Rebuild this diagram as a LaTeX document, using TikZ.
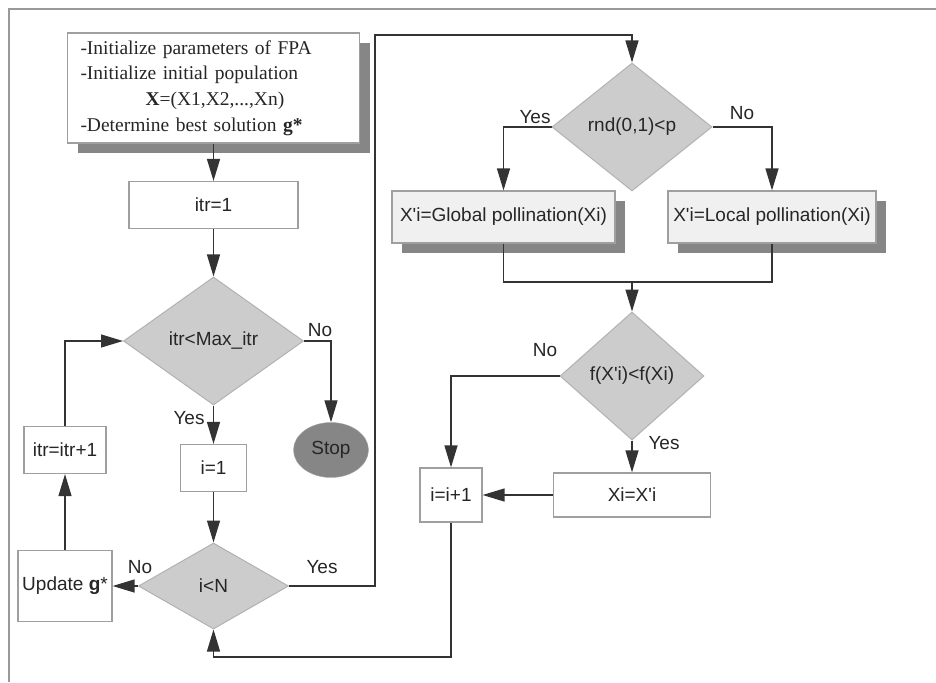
\documentclass[tikz,border=0pt]{standalone}
\usepackage{fontspec}
\setmainfont{Liberation Serif}
\setsansfont{Liberation Sans}
\usetikzlibrary{shapes.geometric,arrows.meta,shadows}
\newcommand\pr{\textquotesingle}

\begin{document}
\begin{tikzpicture}[x=1pt,y=-1pt,
	every node/.style={font=\sffamily\fontsize{19}{23}\selectfont,text=black!85},
	box/.style={draw=gray!75,line width=1.2pt,fill=white,inner sep=0pt},
	shbox/.style={box,fill=gray!12,drop shadow={shadow xshift=10pt,shadow yshift=-10pt,fill=gray!95,opacity=1}},
	dia/.style={diamond,draw=gray!60,line width=1pt,fill=gray!40,inner sep=0pt},
	flow/.style={draw=black!80,line width=1.3pt,-{Triangle[length=22pt,width=13pt]}},
	link/.style={draw=black!80,line width=1.3pt},
	lbl/.style={inner sep=0pt}]
	\useasboundingbox (0,0) rectangle (936,682);
	\draw[gray!80,line width=1.2pt] (9,682) -- (9,9) -- (936,9); % frame

	% left column
	\node[box,drop shadow={shadow xshift=10pt,shadow yshift=-10pt,fill=gray!95,opacity=1},
		font=\rmfamily\fontsize{19.5}{25.7}\selectfont,align=left,text width=266pt,
		minimum width=292pt,minimum height=110pt,inner xsep=13pt] (init) at (213.5,88)
		{-Initialize parameters of FPA\\
		 -Initialize initial population\\
		 \hspace*{65pt}\textbf{X}=(X1,X2,...,Xn)\\
		 -Determine best solution \textbf{g*}};
	\node[box,minimum width=169pt,minimum height=47pt] (itr1) at (213.5,205) {itr=1};
	\node[dia,minimum width=180pt,minimum height=128pt] (loopdia) at (213.5,341) {itr<Max\_itr};
	\node[ellipse,draw=gray!70,fill=gray!95,minimum width=75pt,minimum height=55pt,inner sep=0pt] (stop) at (331,450) {Stop};
	\node[box,minimum width=66pt,minimum height=47pt] (ione) at (213.5,468) {i=1};
	\node[dia,minimum width=150pt,minimum height=86pt] (idia) at (213.5,586) {i<N};
	\node[box,minimum width=82pt,minimum height=47pt] (incr) at (65,450) {itr=itr+1};
	\node[box,minimum width=94pt,minimum height=71pt] (upd) at (65,586) {Update \textbf{g}*};

	% right column
	\node[dia,minimum width=160pt,minimum height=128pt] (rnd) at (632,127) {rnd(0,1)<p};
	\node[shbox,minimum width=223pt,minimum height=52pt] (glob) at (503.5,217) {X\pr i=Global pollination(Xi)};
	\node[shbox,minimum width=208pt,minimum height=52pt] (loc) at (772,217) {X\pr i=Local pollination(Xi)};
	\node[dia,minimum width=144pt,minimum height=128pt] (fdia) at (632,376) {f(X\pr i)<f(Xi)};
	\node[box,minimum width=157pt,minimum height=44pt] (xi) at (632,495) {Xi=X\pr i};
	\node[box,minimum width=62pt,minimum height=54pt] (inc) at (451,495) {i=i+1};

	\coordinate (up) at (375,35);
	\coordinate (mrg) at (632,282);
	\coordinate (back) at (451,657);

	% connectors
	\draw[flow] (init) -- (itr1);
	\draw[flow] (itr1) -- (loopdia);
	\draw[flow] (loopdia.east) -| (stop.north);
	\draw[flow] (loopdia.south) -- (ione.north);
	\draw[flow] (ione) -- (idia);
	\draw[flow] (idia.west) -- (upd.east);
	\draw[flow] (upd) -- (incr);
	\draw[flow] (incr.north) |- (loopdia.west);
	\draw[flow] (idia.east) -| (up) -| (rnd.north);
	\draw[flow] (rnd.west) -| (glob.north);
	\draw[flow] (rnd.east) -| (loc.north);
	\draw[link] (glob.south) |- (mrg) -| (loc.south);
	\draw[flow] (mrg) -- (fdia.north);
	\draw[flow] (fdia.west) -| (inc.north);
	\draw[flow] (fdia.south) -- (xi.north);
	\draw[flow] (xi.west) -- (inc.east);
	\draw[flow] (inc.south) -- (back) -| (idia.south);

	% branch labels
	\node[lbl] (no1) at (320,330) {No};
	\node[lbl] (yes1) at (189,418) {Yes};
	\node[lbl] (no2) at (140,567) {No};
	\node[lbl] (yes2) at (322,567) {Yes};
	\node[lbl] (yes3) at (535,117) {Yes};
	\node[lbl] (no3) at (742,113) {No};
	\node[lbl] (no4) at (545,350) {No};
	\node[lbl] (yes4) at (664,443) {Yes};
\end{tikzpicture}
\end{document}
